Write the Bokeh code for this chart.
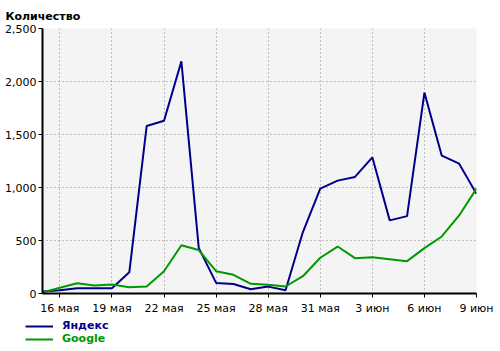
from bokeh.plotting import figure
from bokeh.layouts import column, row
from bokeh.models import Range1d, FixedTicker, NumeralTickFormatter, Title, Legend, LegendItem
from bokeh.embed import file_html
from bokeh.resources import INLINE

days = list(range(26))  # 0 = 15 мая ... 25 = 9 июн
tick_days = [1, 4, 7, 10, 13, 16, 19, 22, 25]
tick_labels = ["16 мая", "19 мая", "22 мая", "25 мая", "28 мая", "31 мая", "3 июн", "6 июн", "9 июн"]

yandex = [20, 30, 50, 50, 50, 200, 1580, 1630, 2190, 430, 100, 90, 40, 65, 30, 580,
          990, 1065, 1100, 1285, 690, 730, 1895, 1300, 1225, 940]
google = [10, 55, 97, 75, 85, 60, 65, 210, 455, 410, 210, 176, 91, 82, 66, 163,
          337, 443, 333, 343, 324, 305, 428, 538, 736, 990]
series_names = ["Яндекс", "Google"]
series_colors = ["#00008b", "#009900"]

FONT = "DejaVu Sans"

p = figure(width=500, height=318, output_backend="svg", toolbar_location=None,
           x_range=Range1d(0, 25), y_range=Range1d(0, 2500),
           min_border_left=42, min_border_right=24, min_border_top=28, min_border_bottom=25)
p.background_fill_color = "#f4f4f4"
p.border_fill_color = "white"
p.outline_line_color = None

for ax in (p.xaxis, p.yaxis):
    ax.axis_line_color = "black"
    ax.axis_line_width = 2
    ax.major_tick_line_color = "black"
    ax.major_tick_out = 4
    ax.major_tick_in = 0
    ax.minor_tick_line_color = None
    ax.major_label_text_font = FONT
    ax.major_label_text_font_size = "11px"
    ax.major_label_text_color = "black"

p.xaxis.ticker = FixedTicker(ticks=tick_days)
p.xaxis.major_label_overrides = {d: l for d, l in zip(tick_days, tick_labels)}
p.xaxis.major_label_standoff = 4
p.yaxis.ticker = FixedTicker(ticks=[0, 500, 1000, 1500, 2000, 2500])
p.yaxis.formatter = NumeralTickFormatter(format="0,0")
p.yaxis.major_label_standoff = 2

for g in (p.xgrid, p.ygrid):
    g.grid_line_color = "#888888"
    g.grid_line_dash = "1 3"
    g.grid_line_width = 1
p.xgrid.ticker = FixedTicker(ticks=tick_days)

p.line(days, yandex, line_color=series_colors[0], line_width=2)
p.line(days, google, line_color=series_colors[1], line_width=2)

p.add_layout(Title(text="Количество", align="left", offset=-37,
                   text_font=FONT, text_font_size="11px", text_font_style="bold",
                   text_color="black", standoff=12), "above")

# legend strip below the chart (series drawn off-view, only their legend swatches show)
leg = figure(width=500, height=33, output_backend="svg", toolbar_location=None,
             x_axis_type=None, y_axis_type=None,
             min_border=0, min_border_left=0, min_border_right=0,
             min_border_top=0, min_border_bottom=0,
             x_range=Range1d(-100, -99), y_range=Range1d(-100, -99))
leg.outline_line_color = None
leg.background_fill_color = "white"
leg.border_fill_color = "white"
leg.grid.visible = False
for name, col, vals, yoff in zip(series_names, series_colors, (yandex, google), (19, 6)):
    r = leg.line(days, vals, line_color=col, line_width=2)
    lg = Legend(items=[LegendItem(label=name, renderers=[r])], location=(25, yoff),
                background_fill_alpha=0, border_line_color=None,
                label_text_font=FONT, label_text_font_size="11px",
                label_text_font_style="bold", label_text_color=col,
                glyph_width=28, glyph_height=12, label_height=12, padding=0, margin=0,
                label_standoff=9, spacing=0)
    leg.add_layout(lg)

layout = column(p, row(leg, spacing=0), spacing=0)
open("out.html", "w").write(file_html(layout, INLINE))
